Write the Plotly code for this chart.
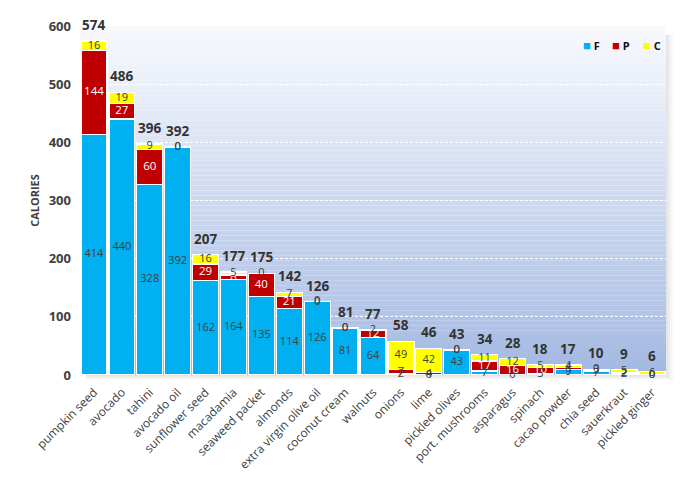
import plotly.graph_objects as go

foods = ["pumpkin seed", "avocado", "tahini", "avocado oil", "sunflower seed", "macadamia",
         "seaweed packet", "almonds", "extra virgin olive oil", "coconut cream", "walnuts",
         "onions", "lime", "pickled olives", "port. mushrooms", "asparagus", "spinach",
         "cacao powder", "chia seed", "sauerkraut", "pickled ginger"]
fat = [414, 440, 328, 392, 162, 164, 135, 114, 126, 81, 64, 2, 0, 43, 7, 0, 3, 9, 7, 2, 0]
protein = [144, 27, 60, 0, 29, 8, 40, 21, 0, 0, 12, 7, 4, 0, 17, 16, 10, 4, 3, 2, 0]
carbs = [16, 19, 9, 0, 16, 5, 0, 7, 0, 0, 2, 49, 42, 0, 11, 12, 5, 4, 0, 5, 6]
totals = [574, 486, 396, 392, 207, 177, 175, 142, 126, 81, 77, 58, 46, 43, 34, 28, 18, 17, 10, 9, 6]
y_ticks = [0, 100, 200, 300, 400, 500, 600]
series = ["F", "P", "C"]

BLUE, RED, YELLOW = "#00b0f0", "#c00000", "#ffff00"
FONT = "Open Sans"
DARK = "#404040"

fig = go.Figure()

# gradient plot background via stacked strips
n = 70
c0 = (247, 249, 253)
c1 = (164, 185, 226)
for i in range(n):
    t = i / (n - 1)
    col = tuple(int(round(c0[k] + (c1[k] - c0[k]) * t)) for k in range(3))
    fig.add_shape(type="rect", xref="x domain", yref="y domain",
                  x0=0, x1=1, y0=1 - (i + 1) / n, y1=1 - i / n,
                  fillcolor="rgb(%d,%d,%d)" % col, line_width=0, layer="below")
# soft shadow right / bottom
for k, a in enumerate([0.10, 0.07, 0.04, 0.02]):
    fig.add_shape(type="rect", xref="x domain", yref="y domain",
                  x0=1.0 + k * 0.0035, x1=1.0 + (k + 1) * 0.0035, y0=-0.006 - k * 0.004, y1=0.975,
                  fillcolor="rgba(0,0,0,%.2f)" % a, line_width=0, layer="below")
    fig.add_shape(type="rect", xref="x domain", yref="y domain",
                  x0=0.01, x1=1.0 + k * 0.0035, y0=-(k + 1) * 0.004, y1=-k * 0.004,
                  fillcolor="rgba(0,0,0,%.2f)" % a, line_width=0, layer="below")

for name, vals, col in zip(series, [fat, protein, carbs], [BLUE, RED, YELLOW]):
    fig.add_trace(go.Bar(x=foods, y=vals, name=name, showlegend=False,
                         marker=dict(color=col, line=dict(color="white", width=1.3))))

# segment labels
bases_p = fat
bases_c = [f + p for f, p in zip(fat, protein)]
fig.add_trace(go.Scatter(x=foods, y=[v / 2 for v in fat], mode="text", text=[str(v) for v in fat],
                         textfont=dict(family=FONT, size=11, color=DARK), showlegend=False,
                         hoverinfo="skip", cliponaxis=False))
fig.add_trace(go.Scatter(x=foods, y=[b + v / 2 for b, v in zip(bases_p, protein)], mode="text",
                         text=[str(v) for v in protein],
                         textfont=dict(family=FONT, size=11.5, color=["white" if v >= 8 else DARK for v in protein]),
                         showlegend=False, hoverinfo="skip", cliponaxis=False))
fig.add_trace(go.Scatter(x=foods, y=[b + v / 2 for b, v in zip(bases_c, carbs)], mode="text",
                         text=[str(v) for v in carbs],
                         textfont=dict(family=FONT, size=11, color=DARK), showlegend=False,
                         hoverinfo="skip", cliponaxis=False))

annotations = []
# total labels above stacks
for food, f, p, c, tot in zip(foods, fat, protein, carbs, totals):
    annotations.append(dict(x=food, y=f + p + c, text="<b>%d</b>" % tot, showarrow=False,
                            yanchor="bottom", yshift=5,
                            font=dict(family=FONT, size=13.5, color="#333333")))

# compact legend (top right)
leg_x = [0.855, 0.905, 0.958]
for name, col, lx in zip(series, [BLUE, RED, YELLOW], leg_x):
    annotations.append(dict(xref="x domain", yref="y domain", x=lx, y=0.945, xanchor="left", yanchor="middle",
                            showarrow=False,
                            text='<span style="color:%s;font-size:13px">■</span> <b>%s</b>' % (col, name),
                            font=dict(family=FONT, size=11, color="#111111")))

fig.update_layout(
    width=682, height=474,
    barmode="stack", bargap=0.07,
    paper_bgcolor="white", plot_bgcolor="rgba(0,0,0,0)",
    margin=dict(l=72, r=24, t=18, b=107),
    font=dict(family=FONT, color=DARK),
    showlegend=False,
    annotations=annotations,
)
fig.update_xaxes(tickangle=-45, tickfont=dict(family=FONT, size=12, color=DARK), showgrid=False,
                 showline=False, ticks="", range=[-0.5, len(foods) - 0.5], automargin=False,
                 ticklabelstandoff=7)
fig.update_yaxes(range=[0, 600], tickvals=y_ticks, tickfont=dict(family=FONT, size=13, color=DARK, weight="bold"),
                 showgrid=True, gridcolor="white", griddash="3px,2px", gridwidth=1, zeroline=False,
                 title=dict(text="CALORIES", font=dict(family=FONT, size=11, color=DARK, weight="bold"), standoff=6),
                 ticklabelstandoff=8, automargin=False)

fig.write_html("out.html")
